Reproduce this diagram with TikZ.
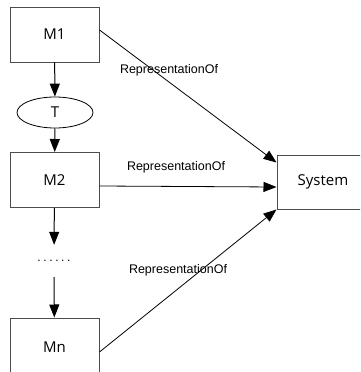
\documentclass[tikz,border=0pt]{standalone}
\usepackage{fontspec}
\setmainfont{Liberation Sans}
\newfontfamily\boxfont{Open Sans}
\usetikzlibrary{arrows.meta,shapes.geometric,calc}
\begin{document}
\begin{tikzpicture}[x=1pt,y=-1pt,
  model/.style={draw=black!70,line width=1pt,fill=white,minimum width=89pt,minimum height=55pt,inner sep=0pt,font=\boxfont\fontsize{15}{15}\selectfont},
  trans/.style={ellipse,draw=black,line width=0.8pt,minimum width=76pt,minimum height=31pt,inner sep=0pt,font=\boxfont\fontsize{15}{15}\selectfont},
  flow/.style={draw=black,line width=1pt,-{Triangle[length=13pt,width=10pt]}},
  rep/.style={draw=black,line width=0.8pt,-{Triangle[length=13pt,width=10pt]}},
  lbl/.style={font=\fontsize{12.5}{12.5}\selectfont,inner sep=0pt}]
\useasboundingbox (0,0) rectangle (360,372);
\begin{scope}
\clip (0,0) rectangle (360,372);
% model chain
\node[model] (m1) at (54.5,34.5) {M1};
\node[trans] (t) at (55,112.5) {T};
\node[model] (m2) at (54.5,180) {M2};
\node[inner sep=0pt,minimum height=32pt] (dots) at (54,261)
  {\fontsize{12}{12}\selectfont.\kern2.6pt.\kern2.6pt.\kern2.6pt.\kern2.6pt.\kern2.6pt.};
\node[model,minimum height=58pt] (mn) at (54.5,347) {Mn};
% the system
\node[model,minimum width=92pt,minimum height=54pt] (sys) at (323,182) {System};
\draw[flow] (m1) -- (t);
\draw[flow] (t) -- (m2);
\draw[flow] (m2) -- (dots);
\draw[flow] (dots) -- (mn);
% representation links
\draw[rep] ([yshift=4.5pt]m1.east) -- ([yshift=-8pt]sys.north west);
\draw[rep] ([yshift=-6pt]m2.east) -- ([yshift=-5pt]sys.west);
\draw[rep] ([yshift=-5pt]mn.east) -- (sys.south west);
\node[lbl] (l1) at (169,70) {RepresentationOf};
\node[lbl] (l2) at (176,167) {RepresentationOf};
\node[lbl] (l3) at (178,270) {RepresentationOf};
\end{scope}
\end{tikzpicture}
\end{document}
